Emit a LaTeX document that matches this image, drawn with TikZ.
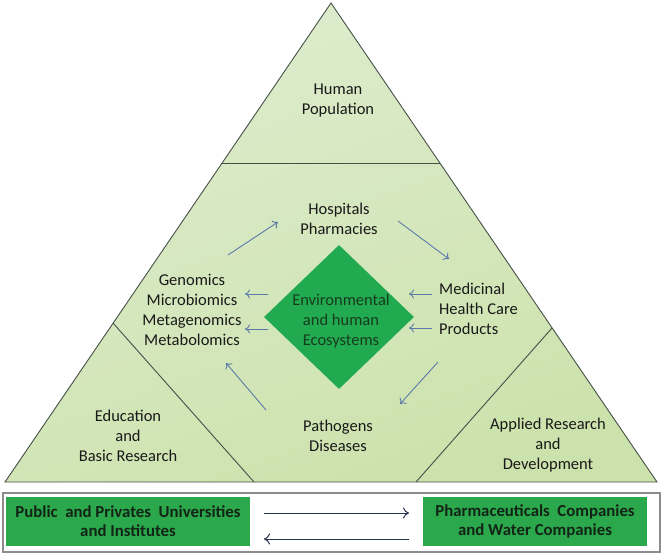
\documentclass[tikz,border=0pt]{standalone}
\usepackage{fontspec}
\setmainfont{Carlito}
\usetikzlibrary{arrows.meta,shapes.geometric}
\definecolor{tritop}{RGB}{222,236,206}
\definecolor{tribot}{RGB}{204,226,172}
\definecolor{edge}{RGB}{70,80,72}
\definecolor{dia}{RGB}{34,170,80}
\definecolor{diatext}{RGB}{22,60,30}
\definecolor{boxgreen}{RGB}{44,168,76}
\definecolor{boxtext}{RGB}{18,36,22}
\definecolor{arrblue}{RGB}{92,122,168}
\definecolor{arrdark}{RGB}{40,50,80}
\begin{document}
\begin{tikzpicture}[x=1pt,y=-1pt,
  lbl/.style={align=center, font=\fontsize{16.5}{20}\selectfont, text=black!90, inner sep=0pt},
  arr/.style={draw=arrblue, line width=0.9pt, -{To[length=5pt,width=9pt]}},
  barr/.style={draw=arrdark, line width=1pt, -{To[length=6pt,width=11pt]}},
  gbox/.style={fill=boxgreen, draw=none, align=center, text=boxtext,
     font=\bfseries\fontsize{16.8}{19}\selectfont, inner sep=0pt}]
\useasboundingbox (0,0) rectangle (663,555);
% triangle
\coordinate (A) at (331,3);
\coordinate (B) at (5,482);
\coordinate (C) at (657,482);
\shade[top color=tritop, bottom color=tribot, shading angle=20] (A) -- (B) -- (C) -- cycle;
\coordinate (hl) at (222,163);
\coordinate (hr) at (440,163);
\coordinate (la) at (113,323);
\coordinate (lb) at (254,482);
\coordinate (ra) at (552,328);
\coordinate (rb) at (416,482);
\draw[edge, line width=0.9pt] (hl) -- (hr);
\draw[edge, line width=0.9pt] (la) -- (lb);
\draw[edge, line width=0.9pt] (ra) -- (rb);
\draw[edge, line width=0.9pt, line join=miter] (A) -- (B) -- (C) -- cycle;
% diamond
\node[diamond, fill=dia, minimum width=150pt, minimum height=144pt, inner sep=0pt] (env) at (339,317) {};
\node[lbl, text=diatext] (envtext) at (341,321) {Environmental\\and human\\Ecosystems};
% labels
\node[lbl] (hp) at (338,101) {Human\\Population};
\node[lbl] (hosp) at (339,219) {Hospitals\\Pharmacies};
\node[lbl] (gen) at (192,310) {Genomics\\Microbiomics\\Metagenomics\\Metabolomics};
\node[lbl, align=left, anchor=west] (med) at (439,309) {Medicinal\\Health Care\\Products};
\node[lbl] (path) at (338,436) {Pathogens\\Diseases};
\node[lbl] (edu) at (128,436) {Education\\and\\Basic Research};
\node[lbl] (app) at (548,445) {Applied Research\\and\\Development};
% arrow end points
\coordinate (g1) at (228,255); \coordinate (h1) at (278,222);
\coordinate (h2) at (398,221); \coordinate (m1) at (449,259);
\coordinate (m2) at (438,362); \coordinate (p1) at (400,404);
\coordinate (p2) at (266,410); \coordinate (g2) at (226,363);
\coordinate (e1) at (268,294); \coordinate (g3) at (245,294);
\coordinate (e2) at (268,329); \coordinate (g4) at (245,329);
\coordinate (m3) at (432,294); \coordinate (e3) at (409,294);
\coordinate (m4) at (432,328); \coordinate (e4) at (409,328);
\draw[arr] (g1) -- (h1);
\draw[arr] (h2) -- (m1);
\draw[arr] (m2) -- (p1);
\draw[arr] (p2) -- (g2);
\draw[arr] (e1) -- (g3);
\draw[arr] (e2) -- (g4);
\draw[arr] (m3) -- (e3);
\draw[arr] (m4) -- (e4);
% bottom panel
\draw[draw=black!45, line width=1.2pt, fill=white] (3,493) rectangle (660,552);
\node[gbox, minimum width=244pt, minimum height=49pt] (pub) at (128,521.5) {Public\ \ and Privates\ \ Universities\\and Institutes};
\node[gbox, minimum width=224pt, minimum height=49pt] (pharm) at (535,521.5) {Pharmaceuticals\ \ Companies\\and Water Companies};
\coordinate (b1) at (264,513); \coordinate (b2) at (409,513);
\coordinate (b3) at (409,539); \coordinate (b4) at (264,539);
\draw[barr] (b1) -- (b2);
\draw[barr] (b3) -- (b4);
\end{tikzpicture}
\end{document}
